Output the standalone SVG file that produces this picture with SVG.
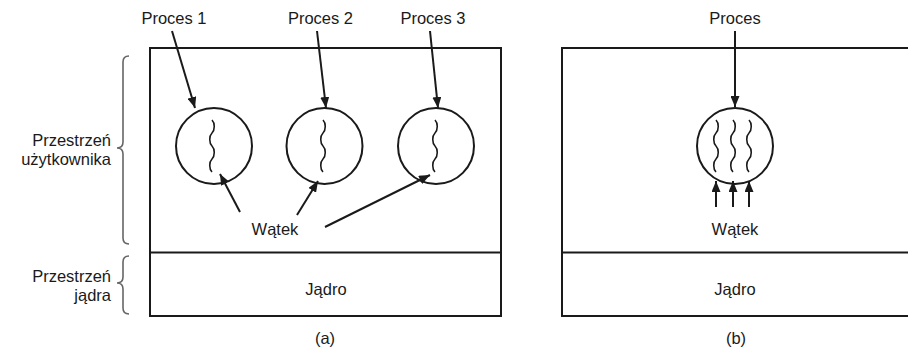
<svg xmlns="http://www.w3.org/2000/svg" width="908" height="353" viewBox="0 0 908 353">
  <style>
    .frame { fill: none; stroke: #1a1a1a; stroke-width: 2; }
    .proc { fill: none; stroke: #1a1a1a; stroke-width: 2; }
    .thread { fill: none; stroke: #1a1a1a; stroke-width: 1.6; }
    .arrow { fill: none; stroke: #1a1a1a; stroke-width: 2; marker-end: url(#head); }
    .brace { fill: none; stroke: #666; stroke-width: 1.6; }
    text { font-family: "Liberation Sans", Arial, sans-serif; font-size: 16.5px; fill: #1a1a1a; }
    .c { text-anchor: middle; }
    .r { text-anchor: end; }
  </style>
  <defs>
    <marker id="head" markerUnits="userSpaceOnUse" markerWidth="12" markerHeight="9" refX="11" refY="4.5" orient="auto">
      <path d="M0,0 L11,4.5 L0,9 z" fill="#1a1a1a"/>
    </marker>
    <!-- one wavy thread line, 52 px tall -->
    <path id="wave" d="M0,0 c3,3 3,10 0,13 s-3,10 0,13 s3,10 0,13 s-3,10 0,13"/>
  </defs>

  <!-- (a) many single-threaded processes -->
  <g id="panel-a">
    <rect class="frame" x="150" y="48" width="351" height="268"/>
    <line class="frame" x1="150" y1="252.5" x2="501" y2="252.5"/>
  </g>

  <!-- (b) one multi-threaded process -->
  <g id="panel-b">
    <rect class="frame" x="562" y="48" width="360" height="268"/>
    <line class="frame" x1="562" y1="252.5" x2="922" y2="252.5"/>
  </g>

  <g id="space-labels">
    <path class="brace" d="M129,56 q-6,0 -6,6 v80 q0,6 -6,6 q6,0 6,6 v84 q0,6 6,6"/>
    <text class="r" x="111" y="146">Przestrzeń</text>
    <text class="r" x="111" y="165">użytkownika</text>
    <path class="brace" d="M129,256 q-6,0 -6,6 v15 q0,6 -6,6 q6,0 6,6 v19 q0,6 6,6"/>
    <text class="r" x="111" y="282">Przestrzeń</text>
    <text class="r" x="111" y="301">jądra</text>
  </g>

  <g id="process-1">
    <circle class="proc" cx="214" cy="146" r="38"/>
    <use class="thread" href="#wave" x="212" y="120"/>
    <text class="c" x="174" y="24">Proces 1</text>
  </g>
  <g id="process-2">
    <circle class="proc" cx="324.5" cy="146" r="38"/>
    <use class="thread" href="#wave" x="323" y="120"/>
    <text class="c" x="320.5" y="24">Proces 2</text>
  </g>
  <g id="process-3">
    <circle class="proc" cx="436" cy="146" r="38"/>
    <use class="thread" href="#wave" x="435" y="120"/>
    <text class="c" x="433" y="24">Proces 3</text>
  </g>
  <g id="process-b">
    <circle class="proc" cx="735" cy="146" r="38"/>
    <use class="thread" href="#wave" x="716" y="120"/>
    <use class="thread" href="#wave" x="733" y="120"/>
    <use class="thread" href="#wave" x="749" y="120"/>
    <text class="c" x="735" y="24">Proces</text>
  </g>

  <g id="labels">
    <text class="c" x="275" y="235">Wątek</text>
    <text class="c" x="735" y="235">Wątek</text>
    <text class="c" x="326" y="295">Jądro</text>
    <text class="c" x="735" y="295">Jądro</text>
    <text class="c" x="325" y="344">(a)</text>
    <text class="c" x="736" y="344">(b)</text>
  </g>

  <g id="connectors">
    <line class="arrow" x1="172" y1="31" x2="195" y2="108"/>
    <line class="arrow" x1="317" y1="31" x2="326" y2="108"/>
    <line class="arrow" x1="430" y1="31" x2="438" y2="108"/>
    <line class="arrow" x1="735" y1="31" x2="735" y2="107"/>
    <line class="arrow" x1="240" y1="212" x2="220" y2="174"/>
    <line class="arrow" x1="297" y1="215" x2="318" y2="181"/>
    <line class="arrow" x1="325" y1="227" x2="430" y2="175"/>
    <line class="arrow" x1="716" y1="207" x2="716" y2="181"/>
    <line class="arrow" x1="733" y1="207" x2="733" y2="181"/>
    <line class="arrow" x1="749" y1="207" x2="749" y2="181"/>
  </g>
</svg>
